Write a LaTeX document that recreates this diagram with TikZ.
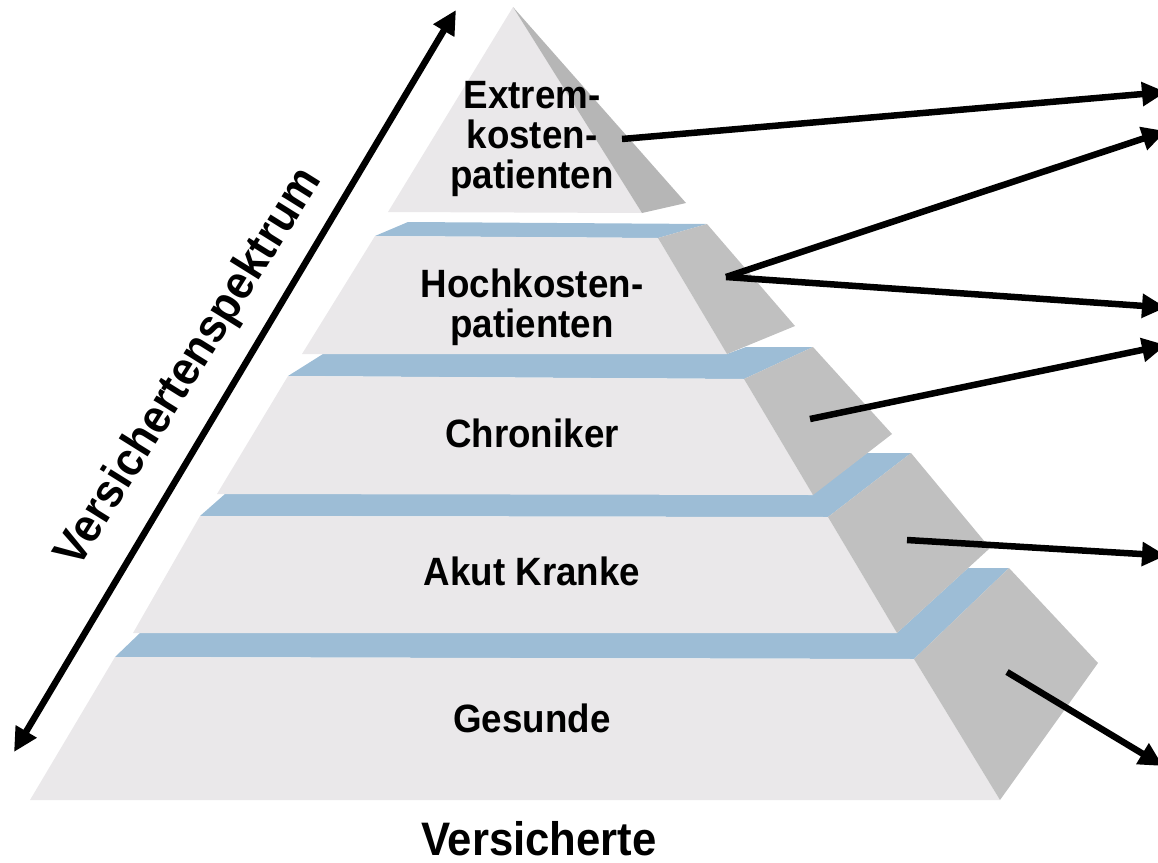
\documentclass[tikz,border=0pt]{standalone}
\usepackage{fontspec}
\setmainfont{Liberation Sans}
\newfontfamily\lblfont{Liberation Sans}[FakeStretch=0.93]
\usetikzlibrary{arrows.meta}
\definecolor{facec}{HTML}{EAE8EA}
\definecolor{sidec}{HTML}{C0C0C0}
\definecolor{topside}{HTML}{B6B6B6}
\definecolor{bluec}{HTML}{9DBDD6}
\begin{document}
\begin{tikzpicture}[x=1pt,y=-1pt,
  face/.style={fill=facec},
  side/.style={fill=sidec},
  strip/.style={fill=bluec},
  lbl/.style={font=\lblfont\fontsize{39.5}{40}\selectfont\bfseries, align=center, inner sep=0pt},
  biglbl/.style={font=\lblfont\fontsize{47}{50}\selectfont\bfseries, inner sep=0pt},
  arr/.style={line width=6.5pt, -{Triangle[length=24pt,width=23pt]}},
  dblarr/.style={line width=6.5pt, {Triangle[length=24pt,width=23pt]}-{Triangle[length=24pt,width=23pt]}}]
\useasboundingbox (0,0) rectangle (1158,862);
% Level 5
\fill[strip] (115,657)--(140,633)--(897,633)--(968,568)--(1009,568)--(914,659)--cycle;
\fill[face] (115,657)--(914,659)--(1000,800)--(30,800)--cycle;
\fill[side] (914,659)--(1009,568)--(1098,663)--(1000,800)--cycle;
% Level 4
\fill[strip] (200,516)--(225,494)--(813,494)--(867,453)--(911,453)--(828,517)--cycle;
\fill[face] (200,516)--(828,517)--(897,633)--(133,633)--cycle;
\fill[side] (828,517)--(911,453)--(990,548)--(897,633)--cycle;
% Level 3
\fill[strip] (288,376)--(323,354)--(727,354)--(746,347)--(813,347)--(744,379)--cycle;
\fill[face] (288,376)--(744,379)--(813,495)--(217,494)--cycle;
\fill[side] (744,379)--(813,347)--(892,434)--(813,495)--cycle;
% Level 2
\fill[strip] (375,236)--(408,222)--(707,224)--(658,238)--cycle;
\fill[face] (375,236)--(658,238)--(727,354)--(302,354)--cycle;
\fill[side] (658,238)--(707,224)--(795,326)--(727,354)--cycle;
% Level 1
\fill[face] (513,7)--(642,213)--(388,212)--cycle;
\fill[topside] (513,7)--(686,203)--(642,213)--cycle;
% Labels
\node[lbl] (t1) at (532,139) {Extrem-\\kosten-\\patienten};
\node[lbl] (t2) at (532,307) {Hochkosten-\\patienten};
\node[lbl, anchor=base] (t3) at (532,447) {Chroniker};
\node[lbl, anchor=base] (t4) at (532,585) {Akut Kranke};
\node[lbl, anchor=base] (t5) at (532,732) {Gesunde};
\node[biglbl, anchor=base] (t6) at (539,855) {Versicherte};
\node[biglbl, rotate=58] (t7) at (190,368) {Versichertenspektrum};
% Arrow coordinates
\coordinate (s1) at (622,139);
\coordinate (e1) at (1166,92);
\coordinate (h) at (726,277);
\coordinate (e2) at (1166,131);
\coordinate (e3) at (1166,307.5);
\coordinate (s4) at (810,419);
\coordinate (e4) at (1166,345);
\coordinate (s5) at (907,540);
\coordinate (e5) at (1166,555.5);
\coordinate (s6) at (1007,672);
\coordinate (e6) at (1163,766);
\coordinate (la) at (14,752);
\coordinate (lb) at (456,10);
% Arrows
\draw[arr] (s1) -- (e1);
\draw[arr] (h) -- (e2);
\draw[arr] (h) -- (e3);
\draw[arr] (s4) -- (e4);
\draw[arr] (s5) -- (e5);
\draw[arr] (s6) -- (e6);
\draw[dblarr] (la) -- (lb);
\end{tikzpicture}
\end{document}
